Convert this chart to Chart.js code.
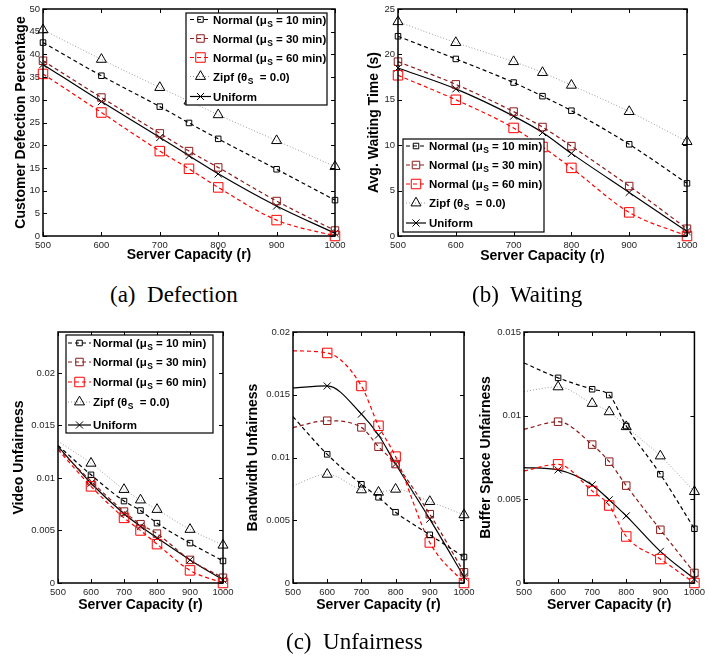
<!DOCTYPE html>
<html><head><meta charset="utf-8">
<script src="https://cdn.jsdelivr.net/npm/chart.js@4.4.0/dist/chart.umd.min.js"></script>
<style>
body{margin:0;background:#fff;width:709px;height:657px;position:relative;overflow:hidden}
canvas{position:absolute}
.cap{position:absolute;font-family:'Liberation Serif','Times New Roman',serif;font-size:23px;line-height:23px;white-space:pre;color:#000}
</style></head><body>
<canvas id="ca"></canvas>
<canvas id="cb"></canvas>
<canvas id="cv"></canvas>
<canvas id="cw"></canvas>
<canvas id="cs"></canvas>
<div class="cap" style="left:110px;top:283px">(a)  Defection</div>
<div class="cap" style="left:472px;top:283px">(b)  Waiting</div>
<div class="cap" style="left:286px;top:630px">(c)  Unfairness</div>
<script>
// ---------- data ----------
const capacity = [500, 600, 700, 750, 800, 900, 1000];
const seriesNames = ['Normal10', 'Normal30', 'Normal60', 'Zipf', 'Uniform'];

// (a) Customer defection percentage
const defN10  = [42.6, 35.3, 28.5, 24.9, 21.4, 14.7, 7.9];
const defN30  = [38.6, 30.5, 22.6, 18.7, 15.1, 7.7, 1.2];
const defN60  = [35.7, 27.2, 18.7, 14.8, 10.7, 3.5, 0.0];
const defZipf = [45.4, 38.9, 32.7, 29.7, 26.7, 21.0, 15.3];
const defUni  = [37.8, 29.6, 21.7, 17.7, 13.7, 6.6, 0.6];

// (b) Avg. waiting time (s)
const waitN10  = [22.0, 19.5, 16.9, 15.4, 13.8, 10.1, 5.8];
const waitN30  = [19.2, 16.7, 13.7, 12.0, 9.9, 5.5, 0.8];
const waitN60  = [17.7, 15.0, 11.9, 9.8, 7.5, 2.6, 0.0];
const waitZipf = [23.6, 21.3, 19.2, 18.0, 16.6, 13.7, 10.4];
const waitUni  = [18.5, 16.2, 13.2, 11.4, 9.1, 4.8, 0.5];

// (c) Video unfairness
const vidN10  = [0.0131, 0.0103, 0.0078, 0.0069, 0.0057, 0.0038, 0.0021];
const vidN30  = [0.0128, 0.0097, 0.0068, 0.0056, 0.0047, 0.0022, 0.0005];
const vidN60  = [0.0127, 0.0092, 0.0062, 0.0050, 0.0037, 0.0012, 0.0];
const vidZipf = [0.0135, 0.0114, 0.0089, 0.0079, 0.0070, 0.0051, 0.0036];
const vidUni  = [0.0130, 0.0095, 0.0066, 0.0054, 0.0043, 0.0022, 0.0003];

// (c) Bandwidth unfairness
const bwN10  = [0.01325, 0.01025, 0.00787, 0.00683, 0.00564, 0.00384, 0.00207];
const bwN30  = [0.0124, 0.01293, 0.0124, 0.01086, 0.00948, 0.00548, 0.00085];
const bwN60  = [0.0185, 0.01833, 0.0157, 0.01253, 0.01007, 0.00323, 0.0];
const bwZipf = [0.00776, 0.00866, 0.00742, 0.00723, 0.00747, 0.00649, 0.00543];
const bwUni  = [0.01555, 0.0157, 0.01346, 0.01179, 0.00948, 0.00509, 0.0005];

// (c) Buffer space unfairness
const bufN10  = [0.01315, 0.01226, 0.01158, 0.01123, 0.00938, 0.0065, 0.00324];
const bufN30  = [0.00918, 0.00964, 0.00827, 0.00725, 0.00582, 0.00318, 0.0006];
const bufN60  = [0.0067, 0.00709, 0.0055, 0.00463, 0.00278, 0.00143, 0.0];
const bufZipf = [0.01144, 0.01172, 0.01073, 0.01023, 0.00934, 0.00759, 0.00546];
const bufUni  = [0.0069, 0.00676, 0.00586, 0.00497, 0.00401, 0.00189, 0.00024];

// tick labels
const xTicks = [500, 600, 700, 800, 900, 1000];
const defTicks = [0, 5, 10, 15, 20, 25, 30, 35, 40, 45, 50];
const waitTicks = [0, 5, 10, 15, 20, 25];
const vidTicks = [0, 0.005, 0.01, 0.015, 0.02];
const bwTicks = [0, 0.005, 0.01, 0.015, 0.02];
const bufTicks = [0, 0.005, 0.01, 0.015];

// legend text parts: [before sub, sub, after sub]
const legendText = [
  ['Normal (\u03bc', 'S', ' = 10 min)'],
  ['Normal (\u03bc', 'S', ' = 30 min)'],
  ['Normal (\u03bc', 'S', ' = 60 min)'],
  ['Zipf (\u03b8', 'S', '  = 0.0)'],
  ['Uniform', '', '']
];

// ---------- styles ----------
const STY = {
  Normal10: {line: '#000000', pc: '#000000', dash: [4, 3], lw: 1.2, ps: 'rect', r: 3.9},
  Normal30: {line: '#8b1a1a', pc: '#8b1a1a', dash: [4, 3], lw: 1.2, ps: 'rect', r: 5.3},
  Normal60: {line: '#ff0000', pc: '#ff0000', dash: [4, 3], lw: 1.2, ps: 'rect', r: 6.7},
  Zipf:     {line: '#9a9a9a', pc: '#000000', dash: [1, 2], lw: 1.0, ps: 'triangle', r: 5.8},
  Uniform:  {line: '#000000', pc: '#000000', dash: [], lw: 1.2, ps: 'crossRot', r: 5}
};

const FONT = "'Liberation Sans', Arial, Helvetica, sans-serif";

function drawMarker(ctx, ps, x, y, r) {
  ctx.beginPath();
  if (ps === 'rect') {
    const s = Math.SQRT1_2 * r;
    ctx.rect(x - s, y - s, 2 * s, 2 * s);
  } else if (ps === 'triangle') {
    let rad = 0;
    for (let k = 0; k < 3; k++) {
      const px = x + Math.sin(rad) * r, py = y - Math.cos(rad) * r;
      if (k === 0) ctx.moveTo(px, py); else ctx.lineTo(px, py);
      rad += 2 * Math.PI / 3;
    }
    ctx.closePath();
  } else if (ps === 'crossRot') {
    const o = Math.cos(Math.PI / 4) * r;
    ctx.moveTo(x - o, y - o); ctx.lineTo(x + o, y + o);
    ctx.moveTo(x + o, y - o); ctx.lineTo(x - o, y + o);
  }
  ctx.stroke();
}

const framePlugin = {
  id: 'frame',
  afterDatasetsDraw(chart) {
    const {ctx, chartArea: a, scales: {x, y}} = chart;
    ctx.save();
    ctx.setLineDash([]);
    ctx.strokeStyle = '#000';
    ctx.lineWidth = 1;
    const L = 4;
    ctx.beginPath();
    x.ticks.forEach(t => {
      const px = Math.round(x.getPixelForValue(t.value)) + 0.5;
      ctx.moveTo(px, a.bottom); ctx.lineTo(px, a.bottom - L);
      ctx.moveTo(px, a.top); ctx.lineTo(px, a.top + L);
    });
    y.ticks.forEach(t => {
      const py = Math.round(y.getPixelForValue(t.value)) + 0.5;
      ctx.moveTo(a.left, py); ctx.lineTo(a.left + L, py);
      ctx.moveTo(a.right, py); ctx.lineTo(a.right - L, py);
    });
    ctx.stroke();
    ctx.lineWidth = 1.5;
    ctx.strokeRect(a.left, a.top, a.right - a.left, a.bottom - a.top);
    ctx.restore();
  }
};

const legendPlugin = {
  id: 'boxLegend',
  afterDraw(chart, args, o) {
    if (!o || !o.box) return;
    const ctx = chart.ctx;
    const ox = o.ox, oy = o.oy;
    const [x1, y1, x2, y2] = o.box;
    ctx.save();
    ctx.setLineDash([]);
    ctx.fillStyle = '#fff';
    ctx.fillRect(x1 - ox, y1 - oy, x2 - x1, y2 - y1);
    ctx.strokeStyle = '#000';
    ctx.lineWidth = 1.2;
    ctx.strokeRect(x1 - ox, y1 - oy, x2 - x1, y2 - y1);
    seriesNames.forEach((nm, i) => {
      const st = STY[nm];
      const cy = o.rows[i] - oy;
      const sx1 = o.sample[0] - ox, sx2 = o.sample[1] - ox;
      ctx.strokeStyle = st.line;
      ctx.lineWidth = st.lw;
      ctx.setLineDash(st.dash);
      ctx.beginPath(); ctx.moveTo(sx1, cy); ctx.lineTo(sx2, cy); ctx.stroke();
      ctx.setLineDash([]);
      ctx.lineWidth = 1;
      ctx.strokeStyle = st.pc;
      drawMarker(ctx, st.ps, (sx1 + sx2) / 2, cy, st.r);
      const parts = legendText[i];
      let tx = o.textX - ox;
      ctx.fillStyle = '#000';
      ctx.textBaseline = 'alphabetic';
      ctx.textAlign = 'left';
      ctx.font = 'bold 11.5px ' + FONT;
      ctx.fillText(parts[0], tx, cy + 4);
      tx += ctx.measureText(parts[0]).width;
      if (parts[1]) {
        ctx.font = 'bold 8.5px ' + FONT;
        ctx.fillText(parts[1], tx + 0.5, cy + 7);
        tx += ctx.measureText(parts[1]).width + 0.5;
        ctx.font = 'bold 11.5px ' + FONT;
        ctx.fillText(parts[2], tx, cy + 4);
      }
    });
    ctx.restore();
  }
};

function ds(name, vals, hideFirst) {
  const st = STY[name];
  return {
    label: name,
    data: capacity.map((c, i) => ({x: c, y: vals[i]})),
    borderColor: st.line,
    borderDash: st.dash,
    borderWidth: st.lw,
    pointStyle: st.ps,
    pointRadius: capacity.map((c, i) => (hideFirst && i === 0) ? 0 : st.r),
    pointBorderColor: st.pc,
    pointBackgroundColor: 'rgba(0,0,0,0)',
    pointBorderWidth: 1,
    cubicInterpolationMode: 'monotone',
    fill: false,
    clip: false
  };
}

function fmt(v) { return String(Math.round(v * 100000) / 100000); }

function makeChart(cfg) {
  const cv = document.getElementById(cfg.id);
  cv.width = cfg.w; cv.height = cfg.h;
  cv.style.left = cfg.left + 'px'; cv.style.top = cfg.top + 'px';
  const p = cfg.plot;
  const half = 14 * 1.2 / 2;
  const padLeft = cfg.yTitleX - half - cfg.left;
  const yWidth = p.L - cfg.left - padLeft;
  const padTop = p.T - cfg.top;
  const padRight = cfg.left + cfg.w - p.R;
  const scaleBottom = cfg.xTitleY + half;
  const padBottom = cfg.top + cfg.h - scaleBottom;
  const xHeight = scaleBottom - p.B;
  const yt = cfg.yTicks;
  const titleFont = {family: FONT, size: 14, weight: 'bold', lineHeight: 1.2};
  const tickFont = {family: FONT, size: 9.5};
  new Chart(cv, {
    type: 'line',
    data: {datasets: cfg.series.map(s => ds(s[0], s[1], cfg.hideFirst))},
    options: {
      responsive: false,
      animation: false,
      events: [],
      layout: {padding: {left: padLeft, top: padTop, right: padRight, bottom: padBottom}},
      plugins: {
        legend: {display: false},
        tooltip: {enabled: false},
        boxLegend: cfg.legend ? Object.assign({ox: cfg.left, oy: cfg.top}, cfg.legend) : {}
      },
      scales: {
        x: {
          type: 'linear', min: 500, max: 1000,
          afterBuildTicks: s => { s.ticks = xTicks.map(v => ({value: v})); },
          afterFit: s => { s.height = xHeight; },
          grid: {display: false, drawTicks: false},
          border: {display: false},
          ticks: {font: tickFont, color: '#262626', padding: 4, maxRotation: 0, autoSkip: false, callback: v => String(v)},
          title: {display: true, text: 'Server Capacity (r)', font: titleFont, color: '#000', padding: 0}
        },
        y: {
          type: 'linear', min: 0, max: cfg.ymax,
          afterBuildTicks: s => { s.ticks = yt.map(v => ({value: v})); },
          afterFit: s => { s.width = yWidth; },
          grid: {display: false, drawTicks: false},
          border: {display: false},
          ticks: {font: tickFont, color: '#262626', padding: 3, autoSkip: false, callback: v => fmt(v)},
          title: {display: true, text: cfg.yTitle, font: titleFont, color: '#000', padding: 0}
        }
      }
    },
    plugins: [framePlugin, legendPlugin]
  });
}

makeChart({
  id: 'ca', left: 0, top: 0, w: 355, h: 270,
  plot: {L: 43, T: 9, R: 335, B: 236}, yTitleX: 21, xTitleY: 255.5,
  yTitle: 'Customer Defection Percentage', ymax: 50, yTicks: defTicks, hideFirst: false,
  series: [['Normal10', defN10], ['Normal30', defN30], ['Normal60', defN60], ['Zipf', defZipf], ['Uniform', defUni]],
  legend: {box: [186, 13, 327, 105], rows: [19.5, 38.5, 57.5, 76.5, 96.5], sample: [190, 211], textX: 213}
});

makeChart({
  id: 'cb', left: 355, top: 0, w: 354, h: 270,
  plot: {L: 398, T: 9, R: 687, B: 236}, yTitleX: 374.5, xTitleY: 256,
  yTitle: 'Avg. Waiting Time (s)', ymax: 25, yTicks: waitTicks, hideFirst: false,
  series: [['Normal10', waitN10], ['Normal30', waitN30], ['Normal60', waitN60], ['Zipf', waitZipf], ['Uniform', waitUni]],
  legend: {box: [403, 139, 544, 232], rows: [146, 165, 184, 203, 223], sample: [406, 426], textX: 429}
});

makeChart({
  id: 'cv', left: 0, top: 320, w: 245, h: 300,
  plot: {L: 58, T: 332, R: 223, B: 583}, yTitleX: 19, xTitleY: 605,
  yTitle: 'Video Unfairness', ymax: 0.0239, yTicks: vidTicks, hideFirst: true,
  series: [['Normal10', vidN10], ['Normal30', vidN30], ['Normal60', vidN60], ['Zipf', vidZipf], ['Uniform', vidUni]],
  legend: {box: [66, 335, 213, 433], rows: [343, 362, 382, 402, 425], sample: [68, 91], textX: 93}
});

makeChart({
  id: 'cw', left: 235, top: 320, w: 251, h: 300,
  plot: {L: 293, T: 332, R: 464, B: 583}, yTitleX: 253.5, xTitleY: 605,
  yTitle: 'Bandwidth Unfairness', ymax: 0.02, yTicks: bwTicks, hideFirst: true,
  series: [['Normal10', bwN10], ['Normal30', bwN30], ['Normal60', bwN60], ['Zipf', bwZipf], ['Uniform', bwUni]],
  legend: null
});

makeChart({
  id: 'cs', left: 470, top: 320, w: 239, h: 300,
  plot: {L: 524, T: 332, R: 697, B: 583}, yTitleX: 486, xTitleY: 605,
  yTitle: 'Buffer Space Unfairness', ymax: 0.015, yTicks: bufTicks, hideFirst: true,
  series: [['Normal10', bufN10], ['Normal30', bufN30], ['Normal60', bufN60], ['Zipf', bufZipf], ['Uniform', bufUni]],
  legend: null
});
</script>
</body></html>
